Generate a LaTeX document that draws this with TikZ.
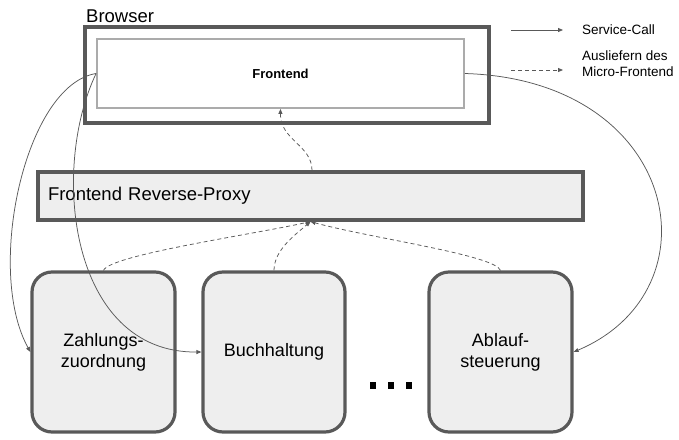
\documentclass[tikz,border=0pt]{standalone}
\usepackage{fontspec}
\setmainfont{Liberation Sans}
\usetikzlibrary{arrows.meta}
\definecolor{darkline}{HTML}{595959}
\definecolor{lightline}{HTML}{ABABAB}
\definecolor{boxfill}{HTML}{EEEEEE}

\begin{document}
\begin{tikzpicture}[x=1pt, y=-1pt,
    frame/.style={draw=darkline, line width=3.2pt},
    service/.style={frame, fill=boxfill, rounded corners=20pt, minimum width=143pt, minimum height=160pt, align=center, font=\fontsize{18}{21}\selectfont},
    call/.style={darkline, line width=0.75pt, -{Triangle[length=5pt,width=4pt]}},
    deliver/.style={call, dash pattern=on 4pt off 3pt},
    legend/.style={anchor=west, inner sep=0pt, align=left, font=\fontsize{13.5}{16}\selectfont}]
        \useasboundingbox (0,0) rectangle (679,439);

        \node[frame, minimum width=404pt, minimum height=96pt] (browser) at (287,75) {};
        \node[anchor=base west, inner sep=0pt, font=\fontsize{18.5}{20}\selectfont] (browserlabel) at (86,22) {Browser};
        \node[draw=lightline, line width=1.8pt, minimum width=367pt, minimum height=69pt, font=\fontsize{13}{15}\selectfont\bfseries] (fe) at (280.5,73.5) {Frontend};

        \node[frame, fill=boxfill, minimum height=48pt, text width=525pt, inner xsep=10pt, align=left, font=\fontsize{18.5}{20}\selectfont] (proxy) at (310.5,196) {Frontend Reverse-Proxy};

        \node[service] (zahl) at (103.5,352) {Zahlungs-\\zuordnung};
        \node[service, minimum width=142pt] (buch) at (274,352) {Buchhaltung};
        \node[service] (ablauf) at (500.5,352) {Ablauf-\\steuerung};
        \foreach \x in {373,391,409}
            \fill[black] (\x-3,382) rectangle (\x+3,389);

        \draw[deliver] ([xshift=1.5pt]proxy.north) .. controls (312,145) and (280,140) .. (fe.south);
        \draw[deliver] (zahl.north) .. controls (110,255) and (250,235) .. (proxy.south);
        \draw[deliver] (buch.north) .. controls (274,250) and (295,235) .. (proxy.south);
        \draw[deliver] (ablauf.north) .. controls (495,255) and (370,238) .. (proxy.south);

        \draw[call] (fe.west) .. controls (25,85) and (-15,270) .. (zahl.west);
        \draw[call] (fe.west) .. controls (50,170) and (70,353) .. (buch.west);
        \draw[call] (fe.east) .. controls (680,80) and (720,290) .. (ablauf.east);

        \coordinate (callstart) at (511,30);
        \coordinate (callend) at (563,30);
        \coordinate (deliverstart) at (511,70);
        \coordinate (deliverend) at (563,70);
        \draw[call] (callstart) -- (callend);
        \draw[deliver] (deliverstart) -- (deliverend);
        \node[legend] (calltext) at (582,30) {Service-Call};
        \node[legend] (delivertext) at (582,64) {Ausliefern des\\Micro-Frontend};
    \end{tikzpicture}
\end{document}
